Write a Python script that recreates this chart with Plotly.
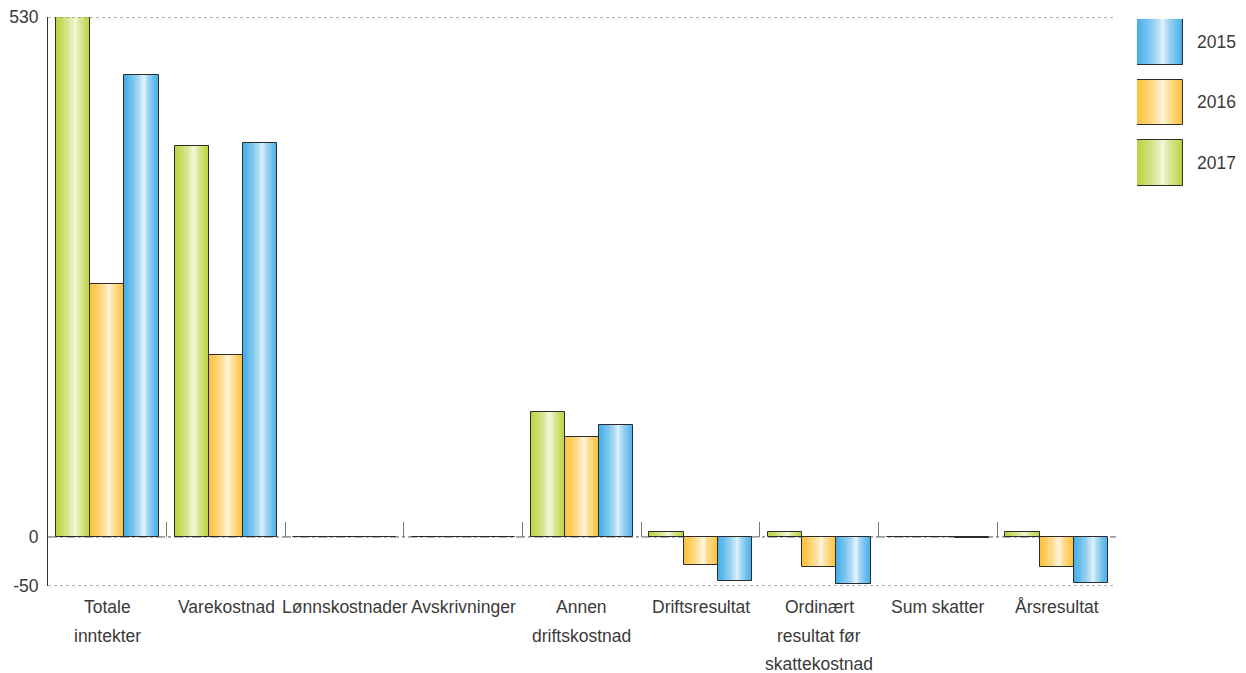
import plotly.graph_objects as go

# ---------------- data ----------------
categories = ["Totale<br>inntekter", "Varekostnad", "Lønnskostnader", "Avskrivninger",
              "Annen<br>driftskostnad", "Driftsresultat", "Ordinært<br>resultat før<br>skattekostnad",
              "Sum skatter", "Årsresultat"]
series_names = ["2017", "2016", "2015"]
values_2017 = [530, 399, 0, 0, 127, 5, 5, 0, 5]
values_2016 = [258, 185, 0, 0, 102, -29, -31, 0, -31]
values_2015 = [471, 402, 0, 0, 114, -45, -48, -1.5, -47]
y_tick_values = [-50, 0, 530]
y_tick_labels = ["-50", "0", "530"]
legend_order = ["2015", "2016", "2017"]

# ---------------- style ----------------
base_colors = {"2017": (188, 212, 66), "2016": (253, 194, 60), "2015": (72, 175, 232)}
values = {"2017": values_2017, "2016": values_2016, "2015": values_2015}
W = 0.289
offsets = {"2017": -W, "2016": 0.0, "2015": W}
N = 16
OUTLINE = "#2b2b2b"
FONT = "Liberation Sans"
TXT = "#3a3a3a"
FS = 17.5

TOP = 17
BOTTOM = 87
PLOT_H = 673 - TOP - BOTTOM


def mix(c, t):
    r = round(255 * (1 - t) + c[0] * t)
    g = round(255 * (1 - t) + c[1] * t)
    b = round(255 * (1 - t) + c[2] * t)
    return f"rgb({r},{g},{b})"


def tone(f):
    return min(1.0, f ** 0.6)


def py(px):
    # pixel row -> paper fraction
    return (673 - BOTTOM - px) / PLOT_H


fig = go.Figure()
n = len(categories)

for s in series_names:
    xs0 = [i + offsets[s] for i in range(n)]
    for k in range(N):
        f = 1 - k / N
        shift = 0.06 * W * (1 - f)
        fig.add_trace(go.Bar(
            x=[x + shift for x in xs0], y=values[s], width=W * f,
            marker=dict(color=mix(base_colors[s], tone(f)), line=dict(width=0)),
            showlegend=False, hoverinfo="skip"))
    fig.add_trace(go.Bar(
        x=xs0, y=values[s], width=W, name=s,
        marker=dict(color="rgba(0,0,0,0)", line=dict(color=OUTLINE, width=1)),
        showlegend=False, hoverinfo="x+y"))

# legend swatches on their own small axes
SW_STEP = 60.7
SW_H = 45.5
for j, s in enumerate(legend_order):
    for k in range(N):
        f = 1 - k / N
        shift = 0.06 * (1 - f)
        fig.add_trace(go.Bar(
            x=[0 + shift], y=[SW_H], base=[j * SW_STEP], width=f,
            marker=dict(color=mix(base_colors[s], tone(f)), line=dict(width=0)),
            xaxis="x2", yaxis="y2", showlegend=False, hoverinfo="skip"))
    fig.add_trace(go.Bar(
        x=[0], y=[SW_H], base=[j * SW_STEP], width=1,
        marker=dict(color="rgba(0,0,0,0)", line=dict(color=OUTLINE, width=1)),
        xaxis="x2", yaxis="y2", showlegend=False, hoverinfo="skip"))

# carrier trace so the boundary-tick axis is drawn
fig.add_trace(go.Scatter(x=[None], y=[None], xaxis="x3", yaxis="y",
                         showlegend=False, hoverinfo="skip"))

annotations = []
for j, s in enumerate(legend_order):
    annotations.append(dict(
        x=1, xref="x2 domain", y=j * SW_STEP + SW_H / 2, yref="y2",
        text=s, showarrow=False, xanchor="left", yanchor="middle", xshift=12,
        font=dict(family=FONT, size=FS, color=TXT)))

for i, lab in enumerate(categories):
    for li, line in enumerate(lab.split("<br>")):
        annotations.append(dict(
            x=i, xref="x", y=0, yref="paper", text=line, showarrow=False,
            xanchor="center", yanchor="middle", yshift=-21 - 28.5 * li,
            font=dict(family=FONT, size=FS, color=TXT)))

shapes = [
    dict(type="line", xref="x domain", x0=0, x1=1, yref="y", y0=y_tick_values[2], y1=y_tick_values[2],
         line=dict(color="#666", width=1, dash="dot")),
    dict(type="line", xref="x domain", x0=0, x1=1, yref="y", y0=y_tick_values[0], y1=y_tick_values[0],
         line=dict(color="#666", width=1, dash="dot")),
    dict(type="line", xref="x domain", x0=0, x1=1, yref="y", y0=0, y1=0,
         line=dict(color="#555", width=1, dash="dashdot"), layer="below"),
]

y_lo, y_hi = -50, 530

fig.update_layout(
    width=1246, height=673,
    margin=dict(l=48, r=20, t=TOP, b=BOTTOM, autoexpand=False),
    paper_bgcolor="white", plot_bgcolor="white",
    barmode="overlay", bargap=0,
    showlegend=False,
    font=dict(family=FONT, size=FS, color=TXT),
    xaxis=dict(domain=[0, 0.9066], range=[-0.5, n - 0.5], showticklabels=False,
               showgrid=False, zeroline=False, showline=False, ticks="", automargin=False),
    xaxis3=dict(overlaying="x", anchor="free", position=(0 - y_lo) / (y_hi - y_lo),
                range=[-0.5, n - 0.5], tickmode="array",
                tickvals=[i + 0.5 for i in range(n)], ticks="inside", ticklen=15,
                tickcolor="#777", tickwidth=1, showticklabels=False,
                showgrid=False, zeroline=False, showline=False, automargin=False),
    yaxis=dict(range=[y_lo, y_hi], tickmode="array", tickvals=y_tick_values,
               ticktext=y_tick_labels, showline=True, linecolor="#333", linewidth=1,
               showgrid=False, zeroline=False, ticks="", automargin=False,
               ticklabelstandoff=5,
               tickfont=dict(family=FONT, size=FS, color=TXT)),
    xaxis2=dict(domain=[0.9244, 0.9635], anchor="y2", range=[-0.5, 0.5], visible=False,
                automargin=False),
    yaxis2=dict(domain=[py(186), min(1.0, py(19))], anchor="x2", range=[167, 0], visible=False,
                automargin=False),
    annotations=annotations,
    shapes=shapes,
)

fig.write_html("out.html", config={"displayModeBar": False},
               post_script="document.body.style.margin='0';document.body.style.overflow='hidden';")
